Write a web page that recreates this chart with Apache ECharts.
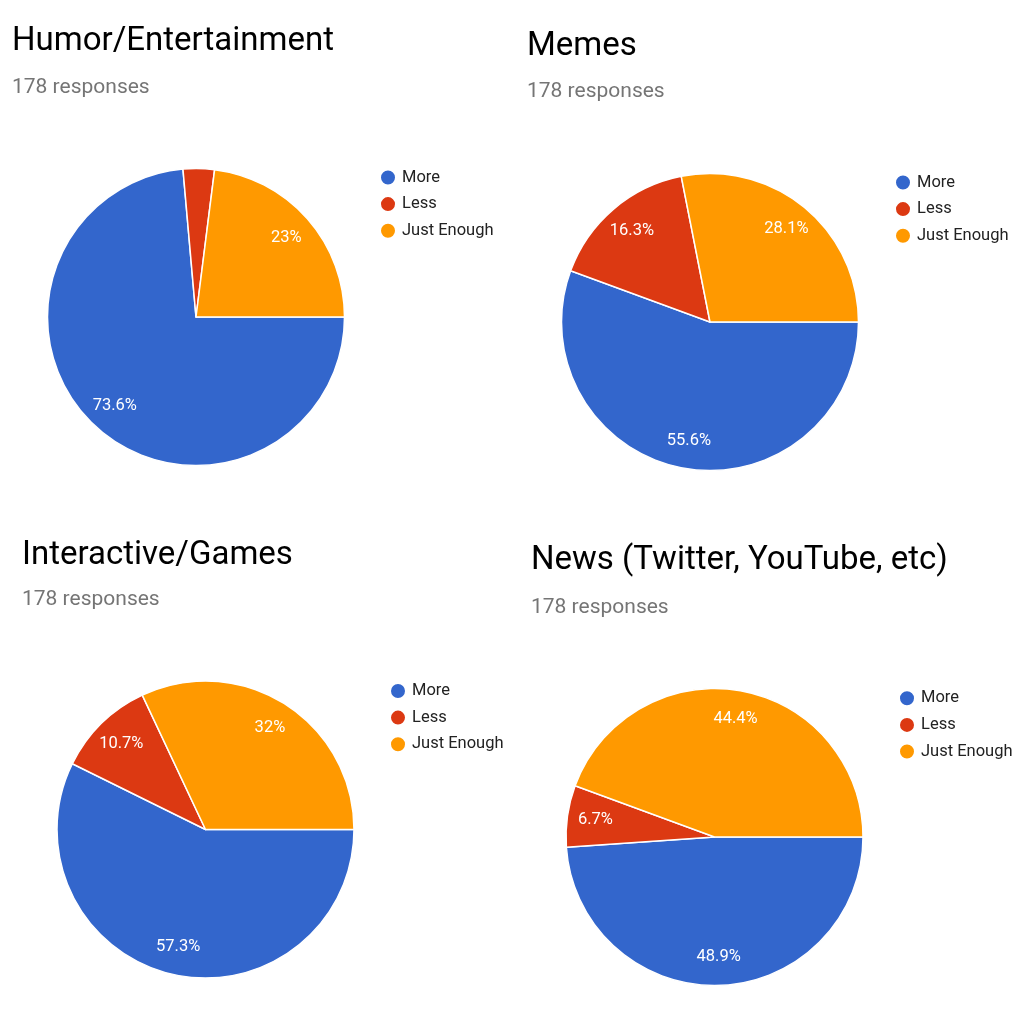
<!DOCTYPE html>
<html>
<head>
<meta charset="utf-8">
<script src="https://cdn.jsdelivr.net/npm/echarts@6/dist/echarts.min.js"></script>
<style>
html,body{margin:0;padding:0;background:#fff;}
#chart{width:1024px;height:1024px;}
</style>
</head>
<body>
<div id="chart"></div>
<script>
// ---- data ----
const categories = ['More', 'Less', 'Just Enough'];
const chartTitles = ['Humor/Entertainment', 'Memes', 'Interactive/Games', 'News (Twitter, YouTube, etc)'];
const responseText = '178 responses';
const humorValues = [73.6, 3.4, 23];
const memesValues = [55.6, 16.3, 28.1];
const gamesValues = [57.3, 10.7, 32];
const newsValues = [48.9, 6.7, 44.4];
const colors = ['#3366CC', '#DC3912', '#FF9900'];

// ---- layout (styles only) ----
const panels = [
  { values: humorValues, center: [196, 317], titleLeft: 12, titleTop: 25, subTop: 77.5, legendLeft: 379, legendTop: 168.5 },
  { values: memesValues, center: [710, 322], titleLeft: 527, titleTop: 30.5, subTop: 81.6, legendLeft: 894, legendTop: 173.5 },
  { values: gamesValues, center: [205.5, 829.5], titleLeft: 22, titleTop: 538.8, subTop: 589.6, legendLeft: 389, legendTop: 682 },
  { values: newsValues, center: [714.5, 837], titleLeft: 531, titleTop: 544.5, subTop: 597.6, legendLeft: 898, legendTop: 689.3 }
];
const R = 148.5;
const FONT = 'Roboto';

const title = [];
const legend = [];
const series = [];

panels.forEach((p, i) => {
  title.push({
    text: chartTitles[i], left: p.titleLeft, top: p.titleTop, padding: 0,
    textStyle: { fontFamily: FONT, fontSize: 33, lineHeight: 33, fontWeight: 'normal', color: '#000' }
  });
  title.push({
    text: responseText, left: p.titleLeft, top: p.subTop, padding: 0,
    textStyle: { fontFamily: FONT, fontSize: 21, lineHeight: 21, fontWeight: 'normal', color: '#757575' }
  });
  legend.push({
    data: categories, orient: 'vertical', left: p.legendLeft, top: p.legendTop, padding: 0,
    icon: 'circle', itemWidth: 16, itemHeight: 16, itemGap: 8.6, selectedMode: false,
    textStyle: { fontFamily: FONT, fontSize: 16.5, lineHeight: 16, color: '#222', padding: [0, 0, 0, 1] }
  });
  const data = categories.map((c, k) => ({ name: c, value: p.values[k], itemStyle: { color: colors[k] } }));
  series.push({
    type: 'pie', center: p.center, radius: [0, R], startAngle: 0, clockwise: true,
    silent: true, animation: false, label: { show: false }, labelLine: { show: false },
    itemStyle: { borderColor: '#fff', borderWidth: 1.5 },
    data: data
  });
  // transparent overlay ring carrying the percentage labels
  series.push({
    type: 'pie', center: p.center, radius: [86, R], startAngle: 0, clockwise: true,
    silent: true, animation: false, minShowLabelAngle: 15,
    label: { show: true, position: 'inside', formatter: '{c}%', color: '#fff', fontFamily: FONT, fontSize: 16.5 },
    labelLine: { show: false },
    itemStyle: { color: 'rgba(0,0,0,0)', borderWidth: 0 },
    data: categories.map((c, k) => ({ name: c, value: p.values[k] }))
  });
});

const chart = echarts.init(document.getElementById('chart'), null, { renderer: 'canvas' });
chart.setOption({
  backgroundColor: '#fff',
  animation: false,
  title: title,
  legend: legend,
  series: series
});
</script>
</body>
</html>
